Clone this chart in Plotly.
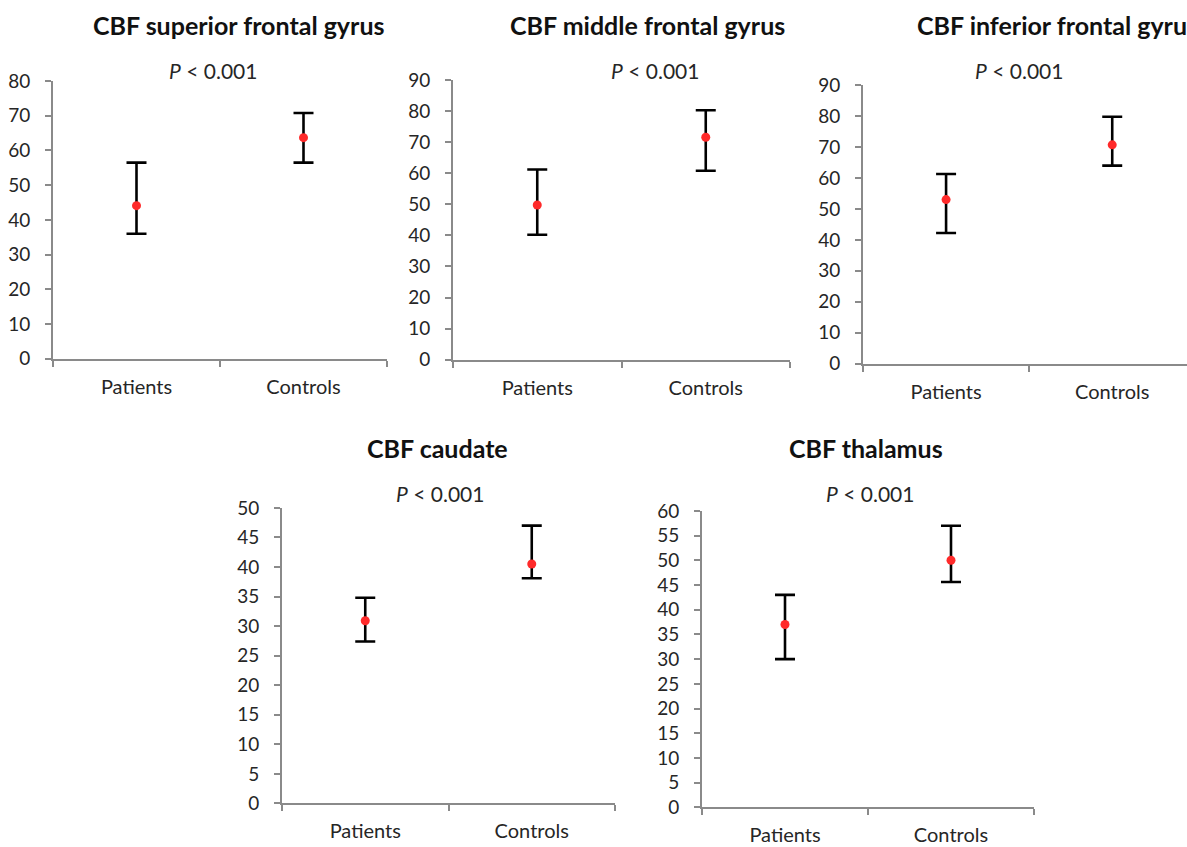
import plotly.graph_objects as go

W, H = 1187, 859

groups = ["Patients", "Controls"]
titles = ["CBF superior frontal gyrus", "CBF middle frontal gyrus", "CBF inferior frontal gyrus",
          "CBF caudate", "CBF thalamus"]
p_label = "<i>P</i> &lt; 0.001"

# mean, upper and lower end of the bars, per region: [Patients, Controls]
sfg_mean = [44.1, 63.7]
sfg_upper = [56.5, 70.8]
sfg_lower = [36.0, 56.5]

mfg_mean = [49.8, 71.6]
mfg_upper = [61.2, 80.3]
mfg_lower = [40.2, 60.8]

ifg_mean = [53.0, 70.7]
ifg_upper = [61.3, 79.8]
ifg_lower = [42.2, 64.0]

cau_mean = [30.9, 40.5]
cau_upper = [34.8, 47.0]
cau_lower = [27.4, 38.1]

tha_mean = [37.0, 50.0]
tha_upper = [43.0, 57.0]
tha_lower = [30.0, 45.6]

y_max = [80, 90, 90, 50, 60]
y_step = [10, 10, 10, 5, 5]

panels = [
    (sfg_mean, sfg_upper, sfg_lower),
    (mfg_mean, mfg_upper, mfg_lower),
    (ifg_mean, ifg_upper, ifg_lower),
    (cau_mean, cau_upper, cau_lower),
    (tha_mean, tha_upper, tha_lower),
]

# layout in screen pixels: x0, x1, y_top, y_bottom, x range end
boxes = [
    (53, 387, 81, 358, 1.5),
    (453, 790, 80, 359, 1.5),
    (863, 1187, 85, 363, 1.45),
    (282, 615, 507, 802, 1.5),
    (702, 1034, 510, 806, 1.5),
]
title_pos = [(238, 25), (647, 25), (1057, 25), (437, 447), (866, 447)]
p_pos = [(213, 70), (655, 70), (1019, 70), (440, 493), (870, 493)]


def fy(r):
    # screen pixel -> figure pixel (vertical)
    return (r - 12) / 0.9715


font_family = "Lato, 'Open Sans', sans-serif"
axis_col = "#8a8a8a"
text_col = "#262626"

fig = go.Figure()
annotations = []
for i, ((mean, up, lo), (x0, x1, yt, yb, xr)) in enumerate(zip(panels, boxes)):
    n = "" if i == 0 else str(i + 1)
    fig.add_trace(go.Scatter(
        x=groups, y=mean, mode="markers",
        xaxis="x" + n, yaxis="y" + n,
        marker=dict(color="#ff2a2a", size=9),
        error_y=dict(type="data", symmetric=False,
                     array=[u - m for u, m in zip(up, mean)],
                     arrayminus=[m - l for m, l in zip(mean, lo)],
                     color="black", thickness=2.6, width=10),
        showlegend=False, cliponaxis=False,
    ))
    fig.layout["xaxis" + n] = dict(
        domain=[x0 / W, x1 / W], anchor="y" + n, type="category",
        range=[-0.5, xr], tickson="boundaries", ticks="outside", ticklen=6,
        tickcolor=axis_col, tickwidth=2, ticklabelstandoff=9,
        showline=True, linecolor=axis_col, linewidth=2, showgrid=False, zeroline=False,
        tickfont=dict(family=font_family, size=20, color=text_col), fixedrange=True,
    )
    fig.layout["yaxis" + n] = dict(
        domain=[1 - fy(yb) / H, 1 - fy(yt) / H], anchor="x" + n,
        range=[0, y_max[i]], dtick=y_step[i], tick0=0, ticks="outside", ticklen=6,
        tickcolor=axis_col, tickwidth=2, ticklabelstandoff=11,
        showline=True, linecolor=axis_col, linewidth=2, showgrid=False, zeroline=False,
        tickfont=dict(family=font_family, size=19, color=text_col), fixedrange=True,
    )
    tx, ty = title_pos[i]
    annotations.append(dict(x=tx / W, y=1 - fy(ty) / H, xref="paper", yref="paper",
                            text="<b>" + titles[i] + "</b>", showarrow=False,
                            xanchor="center", yanchor="middle",
                            font=dict(family=font_family, size=25, color="#111111")))
    px, py = p_pos[i]
    annotations.append(dict(x=px / W, y=1 - fy(py) / H, xref="paper", yref="paper",
                            text=p_label, showarrow=False, xanchor="center", yanchor="middle",
                            font=dict(family=font_family, size=21, color=text_col)))

fig.update_layout(
    width=W, height=H, margin=dict(l=0, r=0, t=0, b=0),
    paper_bgcolor="white", plot_bgcolor="white",
    annotations=annotations,
)
fig.write_html(
    "out.html",
    config={"displayModeBar": False},
    post_script="document.documentElement.style.margin='0';document.body.style.margin='0';"
                "document.documentElement.style.overflow='hidden';document.body.style.overflow='hidden';",
)
